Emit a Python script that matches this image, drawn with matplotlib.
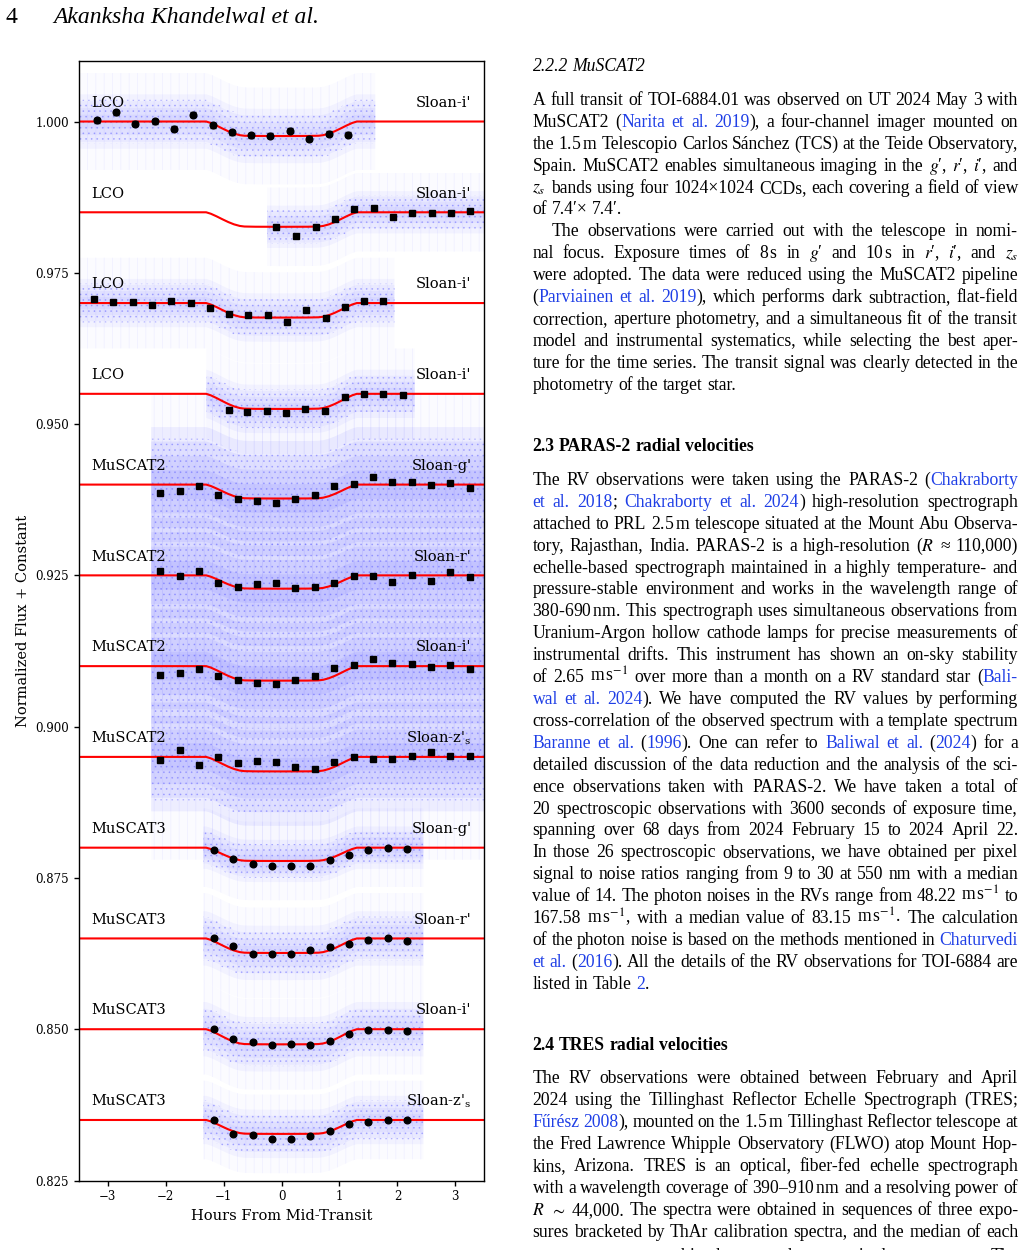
import matplotlib
matplotlib.use("Agg")
import matplotlib.pyplot as plt
import numpy as np

W, H = 1026, 1250

#----------------------------------------------------------------
# light curves: instrument, filter, offset, depth, raw range, spreads
instruments = ["LCO", "LCO", "LCO", "LCO",
               "MuSCAT2", "MuSCAT2", "MuSCAT2", "MuSCAT2",
               "MuSCAT3", "MuSCAT3", "MuSCAT3", "MuSCAT3"]
filters = ["Sloan-i'", "Sloan-i'", "Sloan-i'", "Sloan-i'",
           "Sloan-g'", "Sloan-r'", "Sloan-i'", "Sloan-z'$_\\mathregular{s}$",
           "Sloan-g'", "Sloan-r'", "Sloan-i'", "Sloan-z'$_\\mathregular{s}$"]
offsets = [1.000, 0.985, 0.970, 0.955, 0.940, 0.925, 0.910, 0.895,
           0.880, 0.865, 0.850, 0.835]
depths = [0.0024, 0.0024, 0.0024, 0.0025, 0.0023, 0.0022, 0.0024, 0.0024,
          0.0022, 0.0024, 0.0025, 0.0023]
raw_start = [-3.5, -0.25, -3.5, -1.3, -2.25, -2.25, -2.25, -2.25,
             -1.35, -1.35, -1.35, -1.35]
raw_end = [1.62, 3.5, 1.95, 2.3, 3.5, 3.5, 3.5, 3.5, 2.45, 2.45, 2.45, 2.45]
raw_scatter = [0.0045, 0.0035, 0.0040, 0.0040, 0.0095, 0.0095, 0.0095, 0.0090,
               0.0035, 0.0045, 0.0045, 0.0040]
raw_errext = [0.0080, 0.0065, 0.0075, 0.0075, 0.0150, 0.0150, 0.0150, 0.0170,
              0.0065, 0.0075, 0.0075, 0.0065]

# transit model shape (fraction of depth vs hours)
model_t = [-3.5, -1.30, -1.22, -1.12, -1.02, -0.92, -0.82, -0.72, -0.64, -0.45, 0.0,
           0.45, 0.64, 0.72, 0.82, 0.92, 1.02, 1.12, 1.22, 1.30, 3.5]
model_f = [0, 0, 0.10, 0.28, 0.48, 0.67, 0.83, 0.94, 0.98, 0.995, 1.0,
           0.995, 0.98, 0.94, 0.83, 0.67, 0.48, 0.28, 0.10, 0, 0]

# binned points
t_lco1 = [-3.18, -2.86, -2.52, -2.19, -1.85, -1.53, -1.19, -0.85, -0.52, -0.19, 0.14, 0.48, 0.82, 1.15]
f_lco1 = [1.00017, 1.00149, 0.99962, 1.00007, 0.99879, 1.00111, 0.99940, 0.99825,
          0.99775, 0.99768, 0.99851, 0.99719, 0.99801, 0.99785]
t_lco2 = [-0.09, 0.25, 0.59, 0.92, 1.25, 1.59, 1.92, 2.25, 2.59, 2.92, 3.25]
f_lco2 = [0.98257, 0.98113, 0.98262, 0.98394, 0.98560, 0.98567, 0.98418, 0.98494,
          0.98484, 0.98494, 0.98517]
t_lco3 = [-3.24, -2.91, -2.57, -2.24, -1.91, -1.57, -1.24, -0.91, -0.57, -0.24,
          0.09, 0.42, 0.76, 1.09, 1.43, 1.76]
f_lco3 = [0.97065, 0.97010, 0.97010, 0.96965, 0.97026, 0.96998, 0.96921, 0.96811,
          0.96805, 0.96805, 0.96689, 0.96877, 0.96750, 0.96932, 0.97031, 0.97026]
t_lco4 = [-0.91, -0.59, -0.25, 0.08, 0.41, 0.75, 1.09, 1.42, 1.75, 2.09]
f_lco4 = [0.95238, 0.95194, 0.95215, 0.95177, 0.95248, 0.95215, 0.95442, 0.95497,
          0.95503, 0.95487]
t_m2 = [-2.09, -1.75, -1.42, -1.09, -0.75, -0.42, -0.09, 0.24, 0.58, 0.91, 1.25,
        1.58, 1.91, 2.25, 2.58, 2.91, 3.25]
f_m2g = [0.93858, 0.93891, 0.93969, 0.93836, 0.93770, 0.93737, 0.93704, 0.93765, 0.93836,
         0.93980, 0.94018, 0.94129, 0.94051, 0.94046, 0.93990, 0.94023, 0.93947]
f_m2r = [0.92573, 0.92490, 0.92573, 0.92379, 0.92301, 0.92363, 0.92374, 0.92296, 0.92313,
         0.92374, 0.92483, 0.92495, 0.92384, 0.92507, 0.92412, 0.92556, 0.92478]
f_m2i = [0.90851, 0.90889, 0.90960, 0.90834, 0.90768, 0.90728, 0.90702, 0.90768, 0.90834,
         0.90972, 0.91017, 0.91121, 0.91050, 0.91043, 0.90983, 0.91022, 0.90950]
f_m2z = [0.89444, 0.89614, 0.89371, 0.89503, 0.89399, 0.89432, 0.89421, 0.89333, 0.89305,
         0.89411, 0.89493, 0.89465, 0.89470, 0.89520, 0.89586, 0.89515, 0.89515]
t_m3 = [-1.17, -0.83, -0.50, -0.17, 0.16, 0.50, 0.83, 1.16, 1.49, 1.83, 2.16]
f_m3g = [0.87964, 0.87815, 0.87738, 0.87689, 0.87705, 0.87699, 0.87798, 0.87871,
         0.87964, 0.87992, 0.87980]
f_m3r = [0.86502, 0.86381, 0.86248, 0.86242, 0.86248, 0.86308, 0.86358, 0.86414,
         0.86474, 0.86502, 0.86457]
f_m3i = [0.84997, 0.84836, 0.84787, 0.84737, 0.84754, 0.84732, 0.84798, 0.84914,
         0.84992, 0.84992, 0.84975]
f_m3z = [0.83503, 0.83265, 0.83255, 0.83194, 0.83194, 0.83239, 0.83321, 0.83431,
         0.83459, 0.83492, 0.83492]

bin_t = [t_lco1, t_lco2, t_lco3, t_lco4, t_m2, t_m2, t_m2, t_m2, t_m3, t_m3, t_m3, t_m3]
bin_f = [f_lco1, f_lco2, f_lco3, f_lco4, f_m2g, f_m2r, f_m2i, f_m2z,
         f_m3g, f_m3r, f_m3i, f_m3z]
bin_err = [0.0004, 0.0003, 0.00025, 0.0001, 0.0001, 0.0001, 0.0001, 0.0001,
           0.0001, 0.0001, 0.0001, 0.0001]
bin_marker = ['o', 's', 's', 's', 's', 's', 's', 's', 'o', 'o', 'o', 'o']

#----------------------------------------------------------------
plt.rcParams['font.family'] = 'DejaVu Serif'
plt.rcParams['mathtext.fontset'] = 'stix'
plt.rcParams['hatch.linewidth'] = 0.5

fig = plt.figure(figsize=(W / 100, H / 100), dpi=100)
ax = fig.add_axes([78.7 / W, 1 - 1180.5 / H, (484.3 - 78.7) / W, (1180.5 - 61) / H])

mt = np.array(model_t)
mf = np.array(model_f)

for i in range(len(offsets)):
    # raw photometry cloud, drawn as soft nested bands
    keep = (mt > raw_start[i]) & (mt < raw_end[i])
    xs = np.concatenate([[raw_start[i]], mt[keep], [raw_end[i]]])
    ys = offsets[i] - depths[i] * np.interp(xs, mt, mf)
    a = 0.055 if instruments[i] == "MuSCAT2" else 0.035
    ax.fill_between(xs, ys - raw_errext[i], ys + raw_errext[i],
                    facecolor=(0, 0, 1, 0.015), edgecolor=(0.3, 0.3, 1, 0.07),
                    hatch='||', linewidth=0, zorder=1)
    for k in [1.0, 0.75, 0.5, 0.25]:
        ax.fill_between(xs, ys - k * raw_scatter[i], ys + k * raw_scatter[i],
                        facecolor=(0, 0, 1, a), linewidth=0, zorder=1)
    ax.fill_between(xs, ys - 0.8 * raw_scatter[i], ys + 0.8 * raw_scatter[i],
                    facecolor='none', edgecolor=(0.25, 0.25, 1, 0.30),
                    hatch='...', linewidth=0, zorder=1)

    # model
    ax.plot(mt, offsets[i] - depths[i] * mf, color='red', lw=1.5, zorder=2)

    # binned data
    ax.errorbar(bin_t[i], bin_f[i], yerr=bin_err[i], fmt=bin_marker[i], color='black',
                ms=4.8, elinewidth=1.2, capsize=2, zorder=3)

    ax.text(-3.28, offsets[i] + 0.0031, instruments[i], fontsize=10.5,
            ha='left', va='center', zorder=4)
    ax.text(3.28, offsets[i] + 0.0031, filters[i], fontsize=10.5,
            ha='right', va='center', zorder=4)

ax.set_xlim(-3.5, 3.5)
ax.set_ylim(0.825, 1.010)
ax.set_yticks([0.825, 0.850, 0.875, 0.900, 0.925, 0.950, 0.975, 1.000])
ax.set_yticklabels(["%.3f" % v for v in ax.get_yticks()])
ax.set_xticks([-3, -2, -1, 0, 1, 2, 3])
ax.tick_params(labelsize=8.5, width=1.0)
for s in ax.spines.values():
    s.set_linewidth(1.0)
ax.set_xlabel("Hours From Mid-Transit", fontsize=10.5)
ax.set_ylabel("Normalized Flux + Constant", fontsize=10.5)

#----------------------------------------------------------------
# page text
serif = 'Liberation Serif'
body_size = 12.7
link = '#1f3fe6'
renderer = fig.canvas.get_renderer()

def parse_words(s) :
    words = []
    cur = []
    buf = ''
    blue = False
    inmath = False
    for ch in s :
        if ch == '$' :
            inmath = not inmath
            buf += ch
        elif not inmath and ch in '{}' :
            if buf :
                cur.append((buf, blue))
                buf = ''
            blue = (ch == '{')
        elif not inmath and ch == ' ' :
            if buf :
                cur.append((buf, blue))
                buf = ''
            if cur :
                words.append(cur)
                cur = []
        else :
            buf += ch
    if buf :
        cur.append((buf, blue))
    if cur :
        words.append(cur)
    return words

def draw_line(s, y, x0=532.5, x1=1018, justify=True, size=body_size, **kw) :
    words = parse_words(s)
    items = []
    widths = []
    for w in words :
        parts = []
        wsum = 0
        for txt, blue in w :
            t = fig.text(0, 0, txt, color=link if blue else 'black', fontsize=size,
                         family=serif, ha='left', va='baseline', **kw)
            bw = t.get_window_extent(renderer).width
            parts.append((t, bw))
            wsum += bw
        items.append(parts)
        widths.append(wsum)
    if justify and len(words) > 1 :
        gap = (x1 - x0 - sum(widths)) / (len(words) - 1)
    else :
        gap = 0.25 * size * 100 / 72
    x = x0
    for parts, ww in zip(items, widths) :
        for t, bw in parts :
            t.set_position((x / W, 1 - y / H))
            x += bw
        x += gap

# header
fig.text(6 / W, 1 - 23.3 / H, "4", fontsize=17, family=serif, va='baseline')
fig.text(53 / W, 1 - 23.3 / H, "Akanksha Khandelwal et al.", fontsize=17,
         family=serif, style='italic', va='baseline')

sec1 = [
    ("A full transit of TOI-6884.01 was observed on UT 2024 May 3 with", True, 0),
    ("MuSCAT2 ({Narita et al. 2019}), a four-channel imager mounted on", True, 0),
    ("the 1.5$\\,$m Telescopio Carlos Sánchez (TCS) at the Teide Observatory,", True, 0),
    ("Spain. MuSCAT2 enables simultaneous imaging in the $g$′, $r$′, $i$′, and", True, 0),
    ("$z_s$ bands using four 1024×1024 CCDs, each covering a field of view", True, 0),
    ("of 7.4′× 7.4′.", False, 0),
    ("The observations were carried out with the telescope in nomi-", True, 19),
    ("nal focus. Exposure times of 8$\\,$s in $g$′ and 10$\\,$s in $r$′, $i$′, and $z_s$", True, 0),
    ("were adopted. The data were reduced using the MuSCAT2 pipeline", True, 0),
    ("({Parviainen et al. 2019}), which performs dark subtraction, flat-field", True, 0),
    ("correction, aperture photometry, and a simultaneous fit of the transit", True, 0),
    ("model and instrumental systematics, while selecting the best aper-", True, 0),
    ("ture for the time series. The transit signal was clearly detected in the", True, 0),
    ("photometry of the target star.", False, 0),
]
sec2 = [
    ("The RV observations were taken using the PARAS-2 ({Chakraborty", True, 0),
    ("{et al. 2018}; {Chakraborty et al. 2024}) high-resolution spectrograph", True, 0),
    ("attached to PRL 2.5$\\,$m telescope situated at the Mount Abu Observa-", True, 0),
    ("tory, Rajasthan, India. PARAS-2 is a high-resolution ($R$ ≈ 110,000)", True, 0),
    ("echelle-based spectrograph maintained in a highly temperature- and", True, 0),
    ("pressure-stable environment and works in the wavelength range of", True, 0),
    ("380-690$\\,$nm. This spectrograph uses simultaneous observations from", True, 0),
    ("Uranium-Argon hollow cathode lamps for precise measurements of", True, 0),
    ("instrumental drifts. This instrument has shown an on-sky stability", True, 0),
    ("of 2.65 m$\\,$s$^{-1}$ over more than a month on a RV standard star ({Bali-", True, 0),
    ("{wal et al. 2024}). We have computed the RV values by performing", True, 0),
    ("cross-correlation of the observed spectrum with a template spectrum", True, 0),
    ("{Baranne et al.} ({1996}). One can refer to {Baliwal et al.} ({2024}) for a", True, 0),
    ("detailed discussion of the data reduction and the analysis of the sci-", True, 0),
    ("ence observations taken with PARAS-2. We have taken a total of", True, 0),
    ("20 spectroscopic observations with 3600 seconds of exposure time,", True, 0),
    ("spanning over 68 days from 2024 February 15 to 2024 April 22.", True, 0),
    ("In those 26 spectroscopic observations, we have obtained per pixel", True, 0),
    ("signal to noise ratios ranging from 9 to 30 at 550 nm with a median", True, 0),
    ("value of 14. The photon noises in the RVs range from 48.22 m$\\,$s$^{-1}$ to", True, 0),
    ("167.58 m$\\,$s$^{-1}$, with a median value of 83.15 m$\\,$s$^{-1}$. The calculation", True, 0),
    ("of the photon noise is based on the methods mentioned in {Chaturvedi", True, 0),
    ("{et al.} ({2016}). All the details of the RV observations for TOI-6884 are", True, 0),
    ("listed in Table {2}.", False, 0),
]
sec3 = [
    ("The RV observations were obtained between February and April", True, 0),
    ("2024 using the Tillinghast Reflector Echelle Spectrograph (TRES;", True, 0),
    ("{Fűrész 2008}), mounted on the 1.5$\\,$m Tillinghast Reflector telescope at", True, 0),
    ("the Fred Lawrence Whipple Observatory (FLWO) atop Mount Hop-", True, 0),
    ("kins, Arizona. TRES is an optical, fiber-fed echelle spectrograph", True, 0),
    ("with a wavelength coverage of 390–910$\\,$nm and a resolving power of", True, 0),
    ("$R$ $\\sim$ 44,000. The spectra were obtained in sequences of three expo-", True, 0),
    ("sures bracketed by ThAr calibration spectra, and the median of each", True, 0),
]
# line running off the bottom of the page
sec3_tail = "sequence was combined to produce a single spectrum. The"

draw_line("2.2.2  MuSCAT2", 70.7, justify=False, style='italic')
for k, (s, j, ind) in enumerate(sec1) :
    draw_line(s, 105 + 21.9 * k, x0=532.5 + ind, justify=j)

draw_line("2.3  PARAS-2 radial velocities", 451, justify=False, weight='bold')
for k, (s, j, ind) in enumerate(sec2) :
    draw_line(s, 485 + 21.9 * k, x0=532.5 + ind, justify=j)

draw_line("2.4  TRES radial velocities", 1050, justify=False, weight='bold')
for k, (s, j, ind) in enumerate(sec3) :
    draw_line(s, 1083.3 + 21.9 * k, x0=532.5 + ind, justify=j)
draw_line(sec3_tail, 1261, justify=True)

fig.savefig("out.png", dpi=100)
